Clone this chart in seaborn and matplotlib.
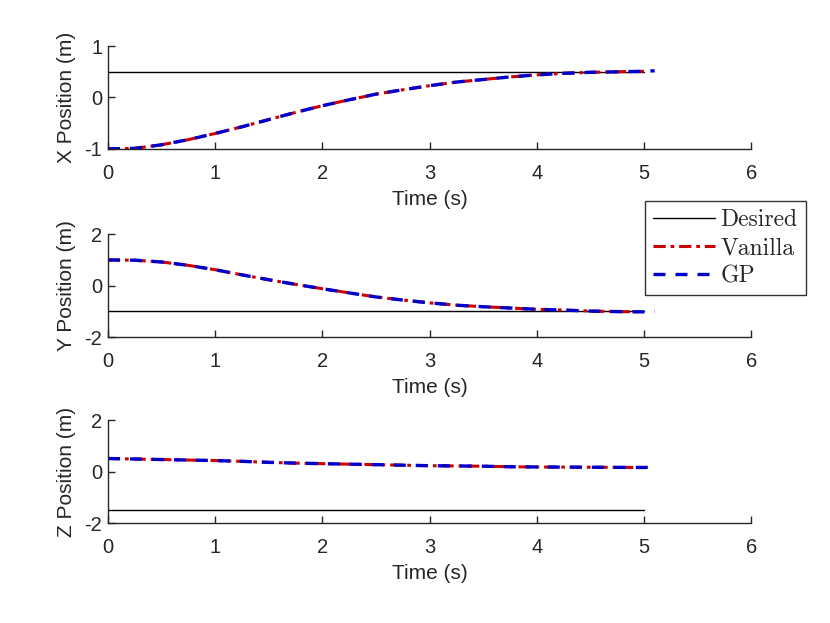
import numpy as np
import pandas as pd
import matplotlib
matplotlib.use('Agg')
import matplotlib.pyplot as plt
import seaborn as sns

# sample times (s)
tempo = [0.0, 0.25, 0.5, 0.75, 1.0, 1.25, 1.5, 1.75, 2.0, 2.25, 2.5, 2.75,
         3.0, 3.25, 3.5, 3.75, 4.0, 4.25, 4.5, 4.75, 5.0]
tempo_gp = tempo + [5.1]

# X position (m)
x_vanilla = [-1.0, -0.99, -0.92, -0.82, -0.70, -0.57, -0.43, -0.29, -0.16, -0.045, 0.065,
             0.15, 0.23, 0.30, 0.35, 0.40, 0.44, 0.47, 0.49, 0.50, 0.51]
x_gp = x_vanilla + [0.52]
x_desired = 0.5

# Y position (m)
y_vanilla = [1.0, 0.99, 0.92, 0.79, 0.62, 0.42, 0.23, 0.05, -0.12, -0.28, -0.44, -0.56,
             -0.67, -0.76, -0.82, -0.87, -0.92, -0.95, -0.99, -1.01, -1.02]
y_gp = y_vanilla + [-1.0]
y_desired = -1.0

# Z position (m)
z_vanilla = [0.51, 0.49, 0.47, 0.45, 0.43, 0.40, 0.36, 0.33, 0.31, 0.29, 0.27, 0.25,
             0.23, 0.22, 0.21, 0.19, 0.18, 0.175, 0.17, 0.165, 0.16]
z_gp = z_vanilla + [0.18]
z_desired = -1.5

paineis = [
    ('X Position (m)', x_vanilla, x_gp, x_desired, (-1, 1), [-1, 0, 1]),
    ('Y Position (m)', y_vanilla, y_gp, y_desired, (-2, 2), [-2, 0, 2]),
    ('Z Position (m)', z_vanilla, z_gp, z_desired, (-2, 2), [-2, 0, 2]),
]

sns.set_style('ticks')
plt.rcParams['font.family'] = ['Liberation Sans', 'DejaVu Sans']
plt.rcParams['axes.unicode_minus'] = False

fig = plt.figure(figsize=(8.3, 6.23), dpi=100)
posicoes = [0.761, 0.459, 0.1605]
altura = 0.165
red = '#cc0000'
blue = '#0000cc'
cinza = '#262626'

for i, (ylabel, van, gp, des, ylim, yticks) in enumerate(paineis):
    ax = fig.add_axes([0.130, posicoes[i], 0.775, altura])
    df_des = pd.DataFrame({'t': [0.0, 5.0], 'v': [des, des]})
    df_van = pd.DataFrame({'t': tempo, 'v': van})
    df_gp = pd.DataFrame({'t': tempo_gp, 'v': gp})
    sns.lineplot(data=df_des, x='t', y='v', ax=ax, color='black', lw=1.0, label='Desired')
    sns.lineplot(data=df_van, x='t', y='v', ax=ax, color=red, lw=2.2,
                 linestyle=(0, (4, 1.6, 1.2, 1.6)), label='Vanilla')
    sns.lineplot(data=df_gp, x='t', y='v', ax=ax, color=blue, lw=2.4,
                 linestyle=(0, (3.6, 3)), label='GP')
    ax.set_xlim(0, 6)
    ax.set_ylim(*ylim)
    ax.set_xticks(range(7))
    ax.set_yticks(yticks)
    ax.set_xlabel('Time (s)', fontsize=15, color=cinza, labelpad=5)
    ax.set_ylabel(ylabel, fontsize=15, color=cinza, labelpad=6)
    ax.tick_params(direction='in', labelsize=14.5, colors=cinza, length=5, width=1)
    ax.tick_params(axis='x', pad=11)
    ax.tick_params(axis='y', pad=4)
    for s in ['top', 'right']:
        ax.spines[s].set_visible(False)
    for s in ['left', 'bottom']:
        ax.spines[s].set_color(cinza)
        ax.spines[s].set_linewidth(1.0)
    if i == 1:
        leg = ax.legend(loc='upper left', bbox_to_anchor=(0.835, 1.327), frameon=True,
                        fancybox=False, handlelength=2.6, handletextpad=0.25,
                        borderpad=0.35, labelspacing=0.25, borderaxespad=0,
                        prop={'family': 'cmr10', 'size': 17})
        leg.get_frame().set_edgecolor('#333333')
        leg.get_frame().set_linewidth(1.0)
        leg.get_frame().set_alpha(1)
    else:
        ax.get_legend().remove()

fig.savefig('out.png', dpi=100)
